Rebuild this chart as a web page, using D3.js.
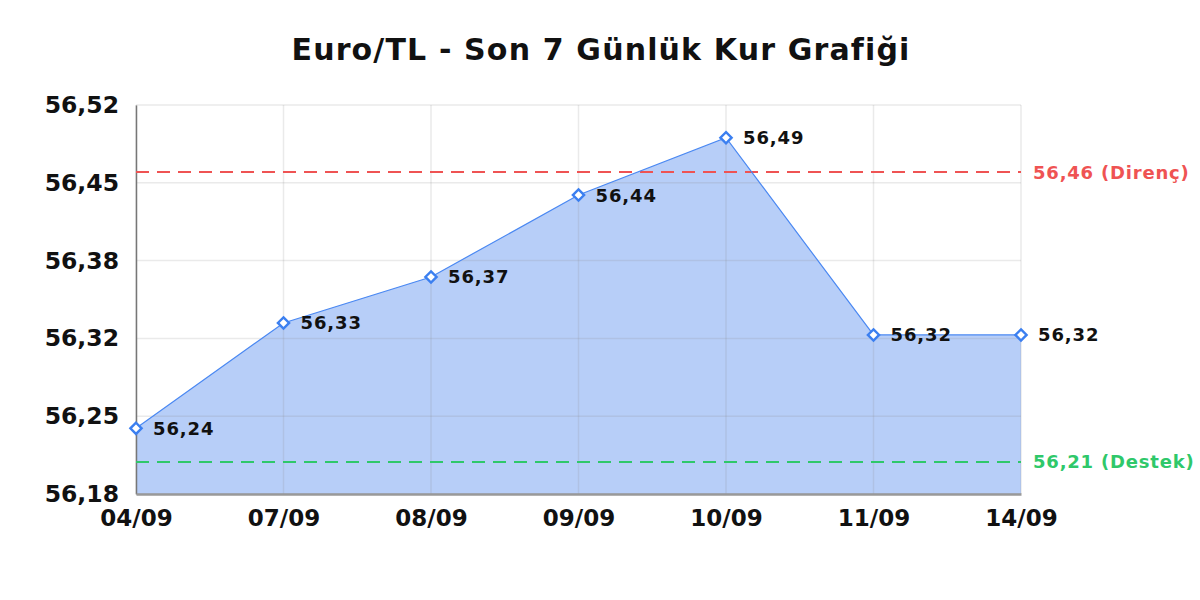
<!DOCTYPE html>
<html>
<head>
<meta charset="utf-8">
<script src="https://cdn.jsdelivr.net/npm/d3@7"></script>
<style>
  html, body { margin: 0; padding: 0; background: #fff; }
  svg { display: block; font-family: "DejaVu Sans", sans-serif; }
</style>
</head>
<body>
<svg id="chart" width="1200" height="600"></svg>
<script>
const title = "Euro/TL - Son 7 Günlük Kur Grafiği";
const categories = ["04/09", "07/09", "08/09", "09/09", "10/09", "11/09", "14/09"];
const rates = [56.2374, 56.3295, 56.3697, 56.4413, 56.4914, 56.319, 56.319];
const yTicks = [56.18, 56.248, 56.316, 56.384, 56.452, 56.52];
const resistance = 56.4614;
const support = 56.208;
const resistanceLabel = "(Direnç)";
const supportLabel = "(Destek)";

const fmt = v => d3.format(".2f")(v).replace(".", ",");

const svg = d3.select("#chart");
const plotL = 136, plotR = 1021, plotT = 105, plotB = 494;

const x = d3.scalePoint().domain(categories).range([plotL, plotR]).padding(0);
const y = d3.scaleLinear().domain([yTicks[0], yTicks[yTicks.length - 1]]).range([plotB, plotT]);

// title
svg.append("text")
  .attr("x", 601).attr("y", 60)
  .attr("text-anchor", "middle")
  .attr("font-weight", "bold")
  .attr("font-size", 30)
  .attr("letter-spacing", 1.15)
  .attr("fill", "#111")
  .text(title);

// area
const area = d3.area().x((d, i) => x(categories[i])).y0(plotB).y1(d => y(d));
svg.append("path").datum(rates)
  .attr("d", area)
  .attr("fill", "#b7cef8");

// grid
const grid = svg.append("g");
grid.selectAll("line.h").data(yTicks).join("line")
  .attr("x1", plotL).attr("x2", plotR)
  .attr("y1", d => y(d)).attr("y2", d => y(d))
  .attr("stroke", "#8c8c8c").attr("stroke-opacity", 0.18).attr("stroke-width", 1.5);
grid.selectAll("line.v").data(categories).join("line")
  .attr("x1", d => x(d)).attr("x2", d => x(d))
  .attr("y1", plotT).attr("y2", plotB)
  .attr("stroke", "#8c8c8c").attr("stroke-opacity", 0.18).attr("stroke-width", 1.5);

// axes
const yAxis = svg.append("g").attr("transform", `translate(${plotL},0)`)
  .call(d3.axisLeft(y).tickValues(yTicks).tickFormat(fmt).tickSize(0).tickPadding(17));
yAxis.select(".domain").attr("stroke", "#777").attr("stroke-width", 1.5);
yAxis.selectAll("text").attr("font-size", 23.5).attr("font-weight", "bold")
  .attr("fill", "#111").attr("font-family", "DejaVu Sans");

const xAxis = svg.append("g").attr("transform", `translate(0,${plotB})`)
  .call(d3.axisBottom(x).tickSize(0).tickPadding(16));
xAxis.select(".domain").attr("stroke", "#999").attr("stroke-width", 2.5);
xAxis.selectAll("text").attr("font-size", 23).attr("font-weight", "bold")
  .attr("fill", "#111").attr("font-family", "DejaVu Sans");

// reference lines
const refs = [
  { v: resistance, label: resistanceLabel, color: "#ef5353" },
  { v: support, label: supportLabel, color: "#2fc86a" }
];
refs.forEach(r => {
  svg.append("line")
    .attr("x1", plotL).attr("x2", plotR)
    .attr("y1", y(r.v)).attr("y2", y(r.v))
    .attr("stroke", r.color).attr("stroke-width", 2)
    .attr("stroke-dasharray", "13,8");
  svg.append("text")
    .attr("x", plotR + 12).attr("y", y(r.v))
    .attr("dy", "0.36em")
    .attr("font-size", 18).attr("font-weight", "bold")
    .attr("letter-spacing", 0.8)
    .attr("fill", r.color)
    .text(fmt(r.v) + " " + r.label);
});

// line
const line = d3.line().x((d, i) => x(categories[i])).y(d => y(d));
svg.append("path").datum(rates)
  .attr("d", line)
  .attr("fill", "none")
  .attr("stroke", "#4a88f2")
  .attr("stroke-width", 1.2);

// markers
const sym = d3.symbol().type(d3.symbolDiamond2).size(80);
svg.selectAll("path.mk").data(rates).join("path")
  .attr("class", "mk")
  .attr("d", sym)
  .attr("transform", (d, i) => `translate(${x(categories[i])},${y(d)})`)
  .attr("fill", "#fff")
  .attr("stroke", "#3b7ff0")
  .attr("stroke-width", 2.4);

// value labels
svg.selectAll("text.val").data(rates).join("text")
  .attr("class", "val")
  .attr("x", (d, i) => x(categories[i]) + 17)
  .attr("y", d => y(d))
  .attr("dy", "0.36em")
  .attr("font-size", 18).attr("font-weight", "bold")
  .attr("letter-spacing", 0.9)
  .attr("fill", "#111")
  .text(d => fmt(d));
</script>
</body>
</html>
